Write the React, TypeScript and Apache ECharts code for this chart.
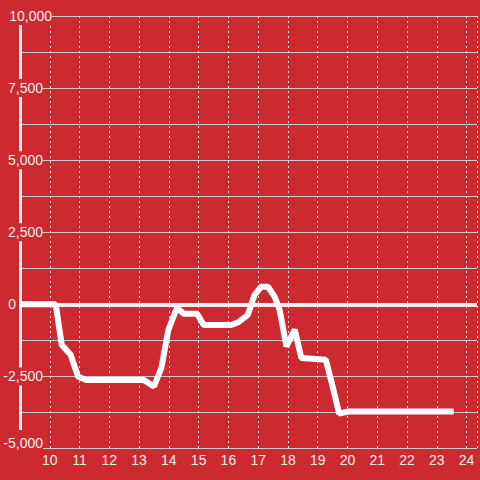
import React, { useEffect, useRef } from "react";
import * as echarts from "echarts";

const xValues: number[] = [9, 10.2, 10.4, 10.7, 10.95, 11.2, 13.15, 13.5, 13.75, 13.98, 14.27, 14.5, 14.95, 15.17, 16.1, 16.35, 16.65, 16.88, 17.1, 17.33, 17.55, 17.72, 17.95, 18.23, 18.45, 19.27, 19.47, 19.72, 20.02, 23.57];
const yValues: number[] = [0, 0, -1400, -1750, -2500, -2620, -2620, -2850, -2200, -900, -120, -330, -330, -720, -720, -610, -370, 330, 610, 610, 270, -190, -1460, -880, -1860, -1920, -2720, -3790, -3720, -3720];
const yTicks: number[] = [-5000, -2500, 0, 2500, 5000, 7500, 10000];
const xTicks: number[] = [10, 11, 12, 13, 14, 15, 16, 17, 18, 19, 20, 21, 22, 23, 24];

const BG = "#cc2a30";

export default function App() {
  const ref = useRef<HTMLDivElement>(null);
  useEffect(() => {
    if (!ref.current) return;
    const chart = echarts.init(ref.current, null, { renderer: "svg" });
    const data = xValues.map((x, i) => [x, yValues[i]]);
    chart.setOption({
      animation: false,
      backgroundColor: BG,
      grid: { left: 20, right: 0, top: 16, bottom: 31.5, containLabel: false },
      xAxis: {
        type: "value",
        min: 9,
        max: 24.35,
        interval: 1,
        axisLine: { show: false },
        axisTick: { show: false },
        axisLabel: {
          color: "#eeeeee",
          fontSize: 14,
          fontFamily: "Liberation Sans, Arial, sans-serif",
          margin: 4,
          showMinLabel: true,
          showMaxLabel: true,
          formatter: (v: number) => (xTicks.indexOf(v) >= 0 ? String(v) : ""),
        },
        splitLine: {
          show: true,
          lineStyle: { color: "#e6e6e6", width: 1, type: [2, 3] },
        },
      },
      yAxis: {
        type: "value",
        min: -5000,
        max: 10000,
        interval: 1250,
        axisLine: { show: true, lineStyle: { color: "#eeeeee", width: 3 } },
        axisTick: { show: false },
        axisLabel: {
          margin: -32,
          align: "right",
          formatter: (v: number) => {
            if (yTicks.indexOf(v) < 0) return "";
            const s = v.toLocaleString("en-US");
            if (v === 10000) return `{t|${s}}`;
            if (v === 0) return `{t|${s}}{z| }`;
            if (v === -5000) return `{b|${s}}{s| }`;
            return `{t|${s}}{s| }`;
          },
          rich: {
            t: {
              color: "#eeeeee",
              fontSize: 14,
              fontFamily: "Liberation Sans, Arial, sans-serif",
              backgroundColor: BG,
              padding: [2, 0, 2, 0],
            },
            b: {
              color: "#eeeeee",
              fontSize: 14,
              fontFamily: "Liberation Sans, Arial, sans-serif",
              backgroundColor: BG,
              padding: [6, 0, 17, 0],
            },
            s: { width: 9, fontSize: 14 },
            z: { width: 36, fontSize: 14 },
          },
        },
        splitLine: {
          show: true,
          lineStyle: { color: "#cccccc", width: 1, type: "solid" },
        },
      },
      series: [
        {
          type: "line",
          data,
          showSymbol: false,
          symbol: "none",
          z: 6,
          lineStyle: { color: "#ffffff", width: 6 },
          markLine: {
            silent: true,
            symbol: ["none", "none"],
            label: { show: false },
            z: 3,
            lineStyle: { color: "#eeeeee", width: 4, type: "solid" },
            data: [{ yAxis: 0 }],
          },
        },
      ],
    });
    return () => chart.dispose();
  }, []);
  return (
    <div
      ref={ref}
      style={{ position: "fixed", left: 0, top: 0, width: 480, height: 480 }}
    />
  );
}
